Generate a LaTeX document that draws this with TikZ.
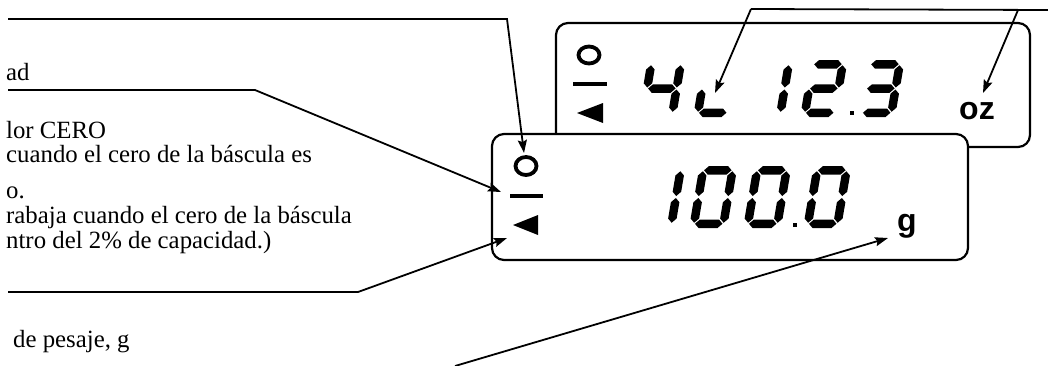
\documentclass[tikz,border=0pt]{standalone}
\usepackage{fontspec}
\setmainfont{Liberation Serif}
\newfontfamily\lcdsans{Liberation Sans}
\usetikzlibrary{arrows.meta}

\def\lst{8.5}\def\lsg{1.0}\def\ldW{38}
\newcommand{\lhseg}[3]{\fill ({#1},{#3}) -- ({#1+\lst/2},{#3+\lst/2}) -- ({#2-\lst/2},{#3+\lst/2}) -- ({#2},{#3}) -- ({#2-\lst/2},{#3-\lst/2}) -- ({#1+\lst/2},{#3-\lst/2}) -- cycle;}
\newcommand{\lvseg}[3]{\fill ({#1},{#2}) -- ({#1+\lst/2},{#2+\lst/2}) -- ({#1+\lst/2},{#3-\lst/2}) -- ({#1},{#3}) -- ({#1-\lst/2},{#3-\lst/2}) -- ({#1-\lst/2},{#2+\lst/2}) -- cycle;}
\newcommand{\lsegA}{\lhseg{\lst/2+\lsg}{\ldW-\lst/2-\lsg}{\ldH-\lst/2}}
\newcommand{\lsegB}{\lvseg{\ldW-\lst/2}{\ldH/2+\lsg}{\ldH-\lst/2-\lsg}}
\newcommand{\lsegC}{\lvseg{\ldW-\lst/2}{\lst/2+\lsg}{\ldH/2-\lsg}}
\newcommand{\lsegD}{\lhseg{\lst/2+\lsg}{\ldW-\lst/2-\lsg}{\lst/2}}
\newcommand{\lsegE}{\lvseg{\lst/2}{\lst/2+\lsg}{\ldH/2-\lsg}}
\newcommand{\lsegF}{\lvseg{\lst/2}{\ldH/2+\lsg}{\ldH-\lst/2-\lsg}}
\newcommand{\lsegG}{\lhseg{\lst/2+\lsg}{\ldW-\lst/2-\lsg}{\ldH/2}}
\newcommand{\lcd}[4]{\begin{scope}[shift={(#1,#2)},x=1pt,y=1pt,xslant=0.17]\def\ldH{#3}#4\end{scope}}

\tikzset{
  display/.style={draw, line width=2.2pt, rounded corners=12pt, inner sep=0pt},
  conn/.style={line width=1.8pt, -{Stealth[length=13pt,width=9pt,inset=2pt]}},
  plain/.style={line width=1.8pt},
  lbl/.style={anchor=base west, inner sep=0pt, font=\fontsize{24.8}{25}\selectfont},
  unit/.style={inner sep=0pt, font=\lcdsans\bfseries\fontsize{32}{32}\selectfont},
}

\begin{document}
\begin{tikzpicture}[x=1pt,y=-1pt]
\useasboundingbox (0,0) rectangle (1048,365);

% back display (oz)
\node[display, minimum width=474pt, minimum height=124pt] (back) at (793,85) {};
\draw[line width=3.8pt] (589,55) ellipse (10.5pt and 8.5pt);
\draw[line width=4pt] (573,84) -- (607,84);
\fill (577,113) -- (603,103) -- (603,123) -- cycle;
\lcd{638}{117}{57}{\lsegB\lsegC\lsegF\lsegG}
\lcd{693}{117}{57}{\lsegD\lsegE}
\lcd{746}{117}{57}{\lsegB\lsegC}
\lcd{800}{117}{57}{\lsegA\lsegB\lsegG\lsegE\lsegD}
\fill (850,111) rectangle (854,115);
\lcd{857}{117}{57}{\lsegA\lsegB\lsegG\lsegC\lsegD}
\node[unit, anchor=base] (oz) at (977,119) {oz};

% front display (g)
\node[display, fill=white, minimum width=476pt, minimum height=126pt] (front) at (730,197) {};
\draw[line width=3.8pt] (526,166) ellipse (10.5pt and 9pt);
\draw[line width=4pt] (510,196) -- (543,196);
\fill (513,225) -- (538,215) -- (538,235) -- cycle;
\lcd{637}{228}{62}{\lsegB\lsegC}
\lcd{689}{228}{62}{\lsegA\lsegB\lsegC\lsegD\lsegE\lsegF}
\lcd{743}{228}{62}{\lsegA\lsegB\lsegC\lsegD\lsegE\lsegF}
\fill (793,223) rectangle (797,227);
\lcd{803}{228}{62}{\lsegA\lsegB\lsegC\lsegD\lsegE\lsegF}
\node[unit, anchor=base] (g) at (907,231) {g};

% labels (cut at the left edge)
\node[lbl] (t1) at (6,80) {ad};
\node[lbl] (t2) at (6,138) {lor CERO};
\node[lbl] (t3) at (6,162) {cuando el cero de la báscula es};
\node[lbl] (t4) at (6,198) {o.};
\node[lbl] (t5) at (6,223) {rabaja cuando el cero de la báscula};
\node[lbl] (t6) at (6,248) {ntro del 2\% de capacidad.)};
\node[lbl] (t7) at (13,347) {de pesaje, g};

% connector points
\coordinate (s1) at (8,19);   \coordinate (k1) at (507,19);  \coordinate (e1) at (524,153);
\coordinate (s2) at (8,90);   \coordinate (k2) at (255,90);  \coordinate (e2) at (501,192);
\coordinate (s3) at (8,292);  \coordinate (k3) at (358,292); \coordinate (e3) at (507,238);
\coordinate (s4) at (455,366); \coordinate (e4) at (888,238);
\coordinate (k5) at (751,9);  \coordinate (k6) at (1018,10); \coordinate (s5) at (1049,10);
\coordinate (e5) at (715,93); \coordinate (e6) at (983,93);

\draw[conn] (s1) -- (k1) -- (e1);
\draw[conn] (s2) -- (k2) -- (e2);
\draw[conn] (s3) -- (k3) -- (e3);
\draw[conn] (s4) -- (e4);
\draw[plain] (k5) -- (s5);
\draw[conn] (k5) -- (e5);
\draw[conn] (k6) -- (e6);
\end{tikzpicture}
\end{document}
